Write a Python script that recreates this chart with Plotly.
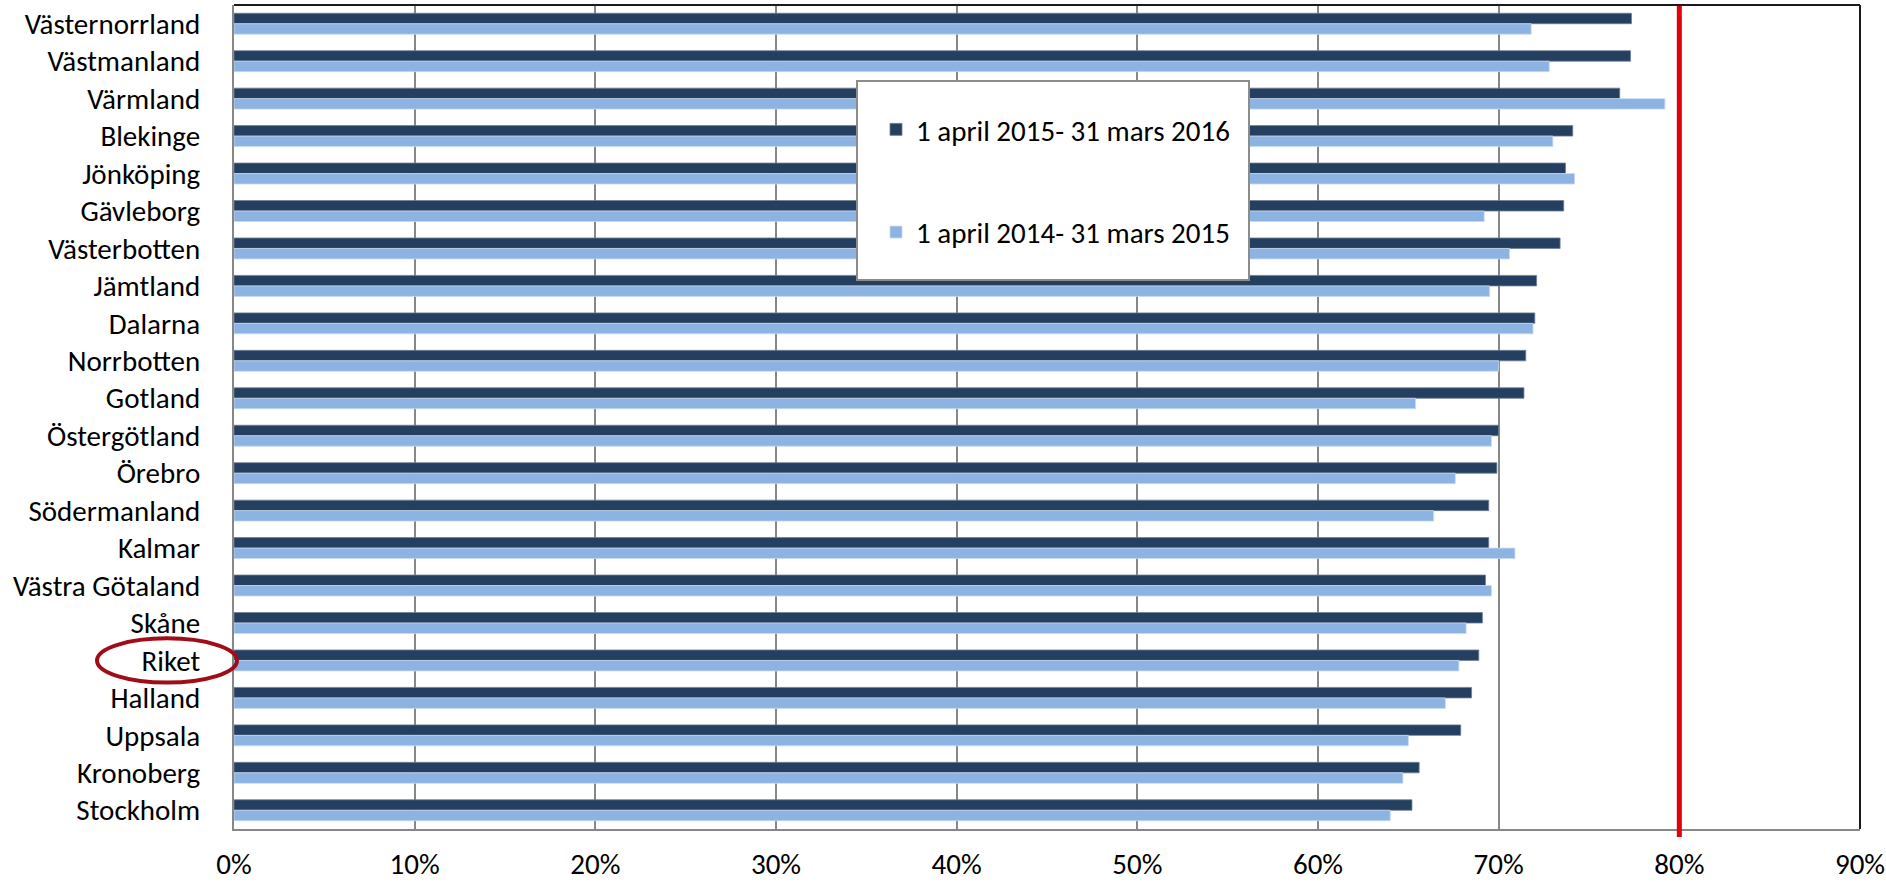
import plotly.graph_objects as go

regions = ["Västernorrland", "Västmanland", "Värmland", "Blekinge", "Jönköping",
           "Gävleborg", "Västerbotten", "Jämtland", "Dalarna", "Norrbotten",
           "Gotland", "Östergötland", "Örebro", "Södermanland", "Kalmar",
           "Västra Götaland", "Skåne", "Riket", "Halland", "Uppsala",
           "Kronoberg", "Stockholm"]

period_2015_16 = [77.35, 77.3, 76.7, 74.1, 73.7, 73.6, 73.4, 72.1, 72.0, 71.5,
                  71.4, 70.0, 69.9, 69.45, 69.45, 69.27, 69.1, 68.9, 68.5, 67.9,
                  65.6, 65.2]
period_2014_15 = [71.8, 72.8, 79.2, 73.0, 74.2, 69.2, 70.6, 69.5, 71.9, 70.0,
                  65.4, 69.6, 67.6, 66.4, 70.9, 69.6, 68.2, 67.8, 67.05, 65.0,
                  64.7, 64.0]

series_names = ["1 april 2015- 31 mars 2016", "1 april 2014- 31 mars 2015"]
x_ticks = [0, 10, 20, 30, 40, 50, 60, 70, 80, 90]
target = 80
highlight = "Riket"

FONT = "Carlito, Lato, sans-serif"
DARK = "#253F60"
LIGHT = "#8DB3E2"
FS = 29

fig = go.Figure()
fig.add_trace(go.Bar(y=regions, x=period_2015_16, orientation="h", name=series_names[0],
                     marker=dict(color=DARK, line=dict(color="#6f7f94", width=0.8)),
                     legendgroup="a"))
fig.add_trace(go.Bar(y=regions, x=period_2014_15, orientation="h", name=series_names[1],
                     marker=dict(color=LIGHT, line=dict(color="#c9dbf0", width=0.8)),
                     legendgroup="b"))

W, H = 1886, 882
L, R, T, B = 234, 26, 5, 53
pw, ph = W - L - R, H - T - B

def px(xp):
    return (xp - L) / pw

def py(yp):
    return 1 - (yp - T) / ph

shapes = []
# red target line
shapes.append(dict(type="line", xref="x", yref="paper", x0=target, x1=target,
                   y0=py(837), y1=1, line=dict(color="#E2000F", width=5), layer="above"))
# top and right frame
shapes.append(dict(type="line", xref="paper", yref="paper", x0=0, x1=1, y0=1, y1=1,
                   line=dict(color="#1a1a1a", width=2), layer="above"))
shapes.append(dict(type="line", xref="paper", yref="paper", x0=1, x1=1, y0=0, y1=1,
                   line=dict(color="#1a1a1a", width=2), layer="above"))
# legend box
shapes.append(dict(type="rect", xref="paper", yref="paper", x0=px(857), x1=px(1249),
                   y0=py(280), y1=py(81), fillcolor="white",
                   line=dict(color="#8c8c8c", width=2), layer="above"))
# ellipse around Riket
ri = regions.index(highlight)
shapes.append(dict(type="circle", xref="paper", yref="y", x0=px(97), x1=px(237),
                   y0=ri - 0.59, y1=ri + 0.59,
                   line=dict(color="#A00D18", width=4), layer="above"))

fig.update_layout(
    width=W, height=H,
    margin=dict(l=L, r=R, t=T, b=B, pad=0, autoexpand=False),
    paper_bgcolor="white", plot_bgcolor="white",
    barmode="group", bargap=0.44, bargroupgap=0,
    font=dict(family=FONT, size=FS, color="black"),
    showlegend=True,
    legend=dict(x=px(876), y=py(104), xanchor="left", yanchor="top",
                bgcolor="rgba(0,0,0,0)", borderwidth=0,
                font=dict(family=FONT, size=FS, color="black"),
                traceorder="grouped", tracegroupgap=62),
    shapes=shapes,
)
fig.update_xaxes(range=[0, 90], tickvals=x_ticks, ticktext=[f"{v}%" for v in x_ticks],
                 showgrid=True, gridcolor="#878787", gridwidth=2,
                 showline=True, linecolor="#878787", linewidth=2,
                 ticks="", ticklabelstandoff=8, zeroline=False, automargin=False,
                 tickfont=dict(family=FONT, size=FS, color="black"))
fig.update_yaxes(autorange="reversed", showgrid=False,
                 showline=True, linecolor="#878787", linewidth=2,
                 ticks="", ticklabelstandoff=26, automargin=False,
                 tickfont=dict(family=FONT, size=FS, color="black"))

fig.write_html("out.html", config={"displayModeBar": False},
               post_script="document.body.style.margin='0';document.body.style.padding='0';")
